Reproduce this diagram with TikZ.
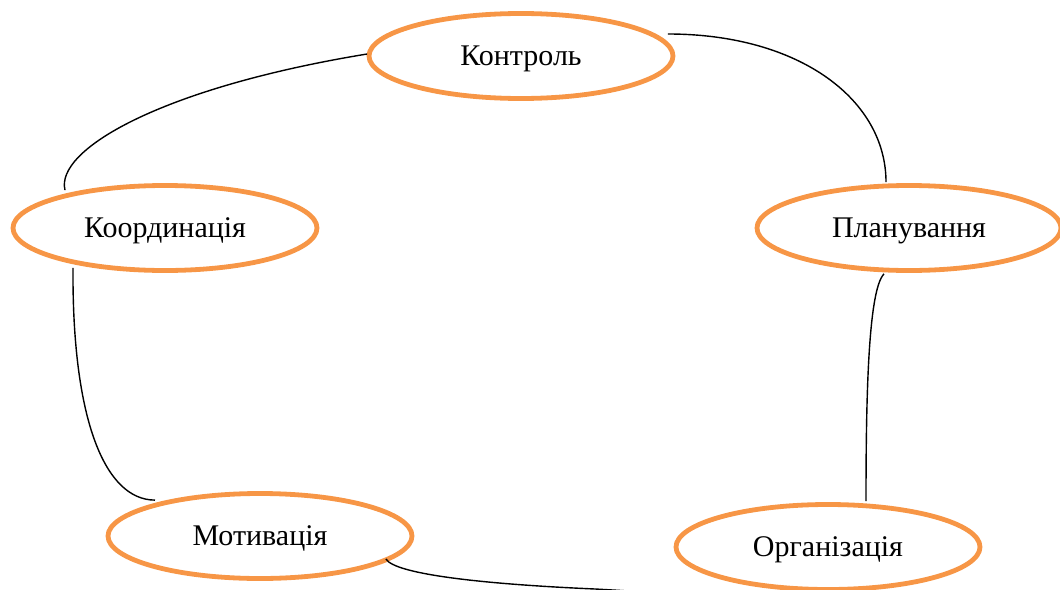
\documentclass[tikz,border=0pt]{standalone}
\usepackage{fontspec}
\setmainfont{Liberation Serif}
\usetikzlibrary{shapes.geometric,calc}
\definecolor{orng}{HTML}{F79646}
\tikzset{
  oval/.style={ellipse, draw=orng, line width=2.4pt, minimum width=152pt,
    minimum height=42.5pt, inner sep=0pt, text depth=0pt, font=\fontsize{15}{18}\selectfont},
  link/.style={draw=black, line width=0.7pt}
}
\begin{document}
\begin{tikzpicture}[x=0.5pt,y=-0.5pt]
\useasboundingbox (0,0) rectangle (1060,589);
\clip (0,0) rectangle (1060,589);
\node[oval] (ctrl) at (521,56) {Контроль};
\node[oval] (koord) at (165,228) {Координація};
\node[oval] (plan) at (909,228) {Планування};
\node[oval] (mot) at (260,536) {Мотивація};
\node[oval] (org) at (828,547) {Організація};
\coordinate (mend) at (720,598);
% Контроль -> Планування
\draw[link] ($(ctrl.east)+(-7.5,-22)$) .. controls (800,34) and (886,100) .. ($(plan.north)+(-23,-1)$);
% Контроль -> Координація
\draw[link] ($(ctrl.west)+(0.5,-2)$) .. controls (160,88) and (55,150) .. ($(koord.north)+(-100,7)$);
% Координація -> Мотивація
\draw[link] ($(koord.south)+(-92,-5)$) .. controls (72,420) and (105,500) .. ($(mot.north)+(-105,9)$);
% Планування -> Організація
\draw[link] ($(plan.south)+(-25,1)$) .. controls (868,290) and (866,400) .. ($(org.north)+(38,-1)$);
% Мотивація -> (below)
\draw[link] ($(mot.east)+(-28.5,23)$) .. controls (395,574) and (480,584) .. (595,589) .. controls (650,592) and (700,596) .. (mend);
\end{tikzpicture}
\end{document}
